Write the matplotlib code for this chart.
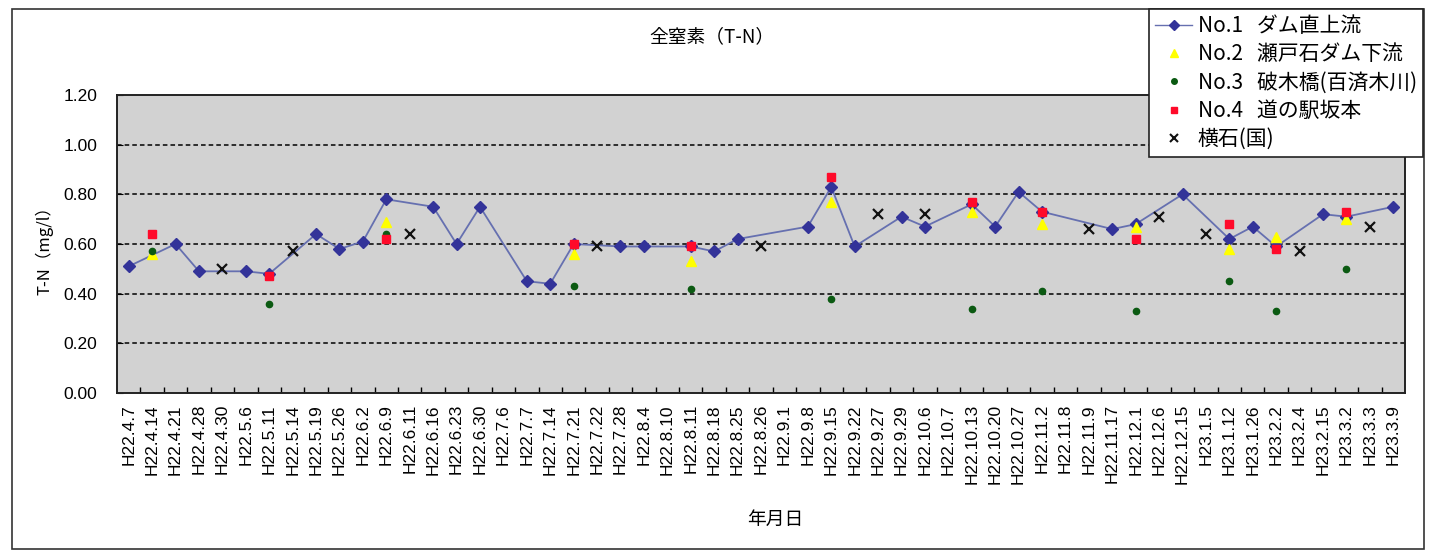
import numpy as np
import matplotlib
matplotlib.use("Agg")
import matplotlib.pyplot as plt
from matplotlib.patches import Rectangle
from matplotlib.lines import Line2D

plt.rcParams['font.family'] = ['Noto Sans CJK JP', 'DejaVu Sans']

nan = np.nan

dates = [
    "H22.4.7", "H22.4.14", "H22.4.21", "H22.4.28", "H22.4.30", "H22.5.6", "H22.5.11",
    "H22.5.14", "H22.5.19", "H22.5.26", "H22.6.2", "H22.6.9", "H22.6.11", "H22.6.16",
    "H22.6.23", "H22.6.30", "H22.7.6", "H22.7.7", "H22.7.14", "H22.7.21", "H22.7.22",
    "H22.7.28", "H22.8.4", "H22.8.10", "H22.8.11", "H22.8.18", "H22.8.25", "H22.8.26",
    "H22.9.1", "H22.9.8", "H22.9.15", "H22.9.22", "H22.9.27", "H22.9.29", "H22.10.6",
    "H22.10.7", "H22.10.13", "H22.10.20", "H22.10.27", "H22.11.2", "H22.11.8", "H22.11.9",
    "H22.11.17", "H22.12.1", "H22.12.6", "H22.12.15", "H23.1.5", "H23.1.12", "H23.1.26",
    "H23.2.2", "H23.2.4", "H23.2.15", "H23.3.2", "H23.3.3", "H23.3.9",
]

# No.1 ダム直上流
no1 = [
    0.51, nan, 0.60, 0.49, nan, 0.49, 0.48, nan, 0.64, 0.58, 0.61, 0.78, nan, 0.75,
    0.60, 0.75, nan, 0.45, 0.44, 0.60, nan, 0.59, 0.59, nan, 0.59, 0.57, 0.62, nan,
    nan, 0.67, 0.83, 0.59, nan, 0.71, 0.67, nan, 0.76, 0.67, 0.81, 0.73, nan, nan,
    0.66, 0.68, nan, 0.80, nan, 0.62, 0.67, 0.59, nan, 0.72, 0.71, nan, 0.75,
]

# sampling dates shared by stations No.2 - No.4
dates_234 = ["H22.4.14", "H22.5.11", "H22.6.9", "H22.7.21", "H22.8.11", "H22.9.15",
             "H22.10.13", "H22.11.2", "H22.12.1", "H23.1.12", "H23.2.2", "H23.3.2"]
dates_2 = ["H22.4.14", "H22.6.9", "H22.7.21", "H22.8.11", "H22.9.15",
           "H22.10.13", "H22.11.2", "H22.12.1", "H23.1.12", "H23.2.2", "H23.3.2"]
no2 = [0.56, 0.69, 0.56, 0.53, 0.77, 0.73, 0.68, 0.67, 0.58, 0.63, 0.70]
no3 = [0.57, 0.36, 0.64, 0.43, 0.42, 0.38, 0.34, 0.41, 0.33, 0.45, 0.33, 0.50]
no4 = [0.64, 0.47, 0.62, 0.60, 0.59, 0.87, 0.77, 0.73, 0.62, 0.68, 0.58, 0.73]

dates_y = ["H22.4.30", "H22.5.14", "H22.6.11", "H22.7.22", "H22.8.26", "H22.9.27",
           "H22.10.6", "H22.11.9", "H22.12.6", "H23.1.5", "H23.2.4", "H23.3.3"]
yokoishi = [0.50, 0.57, 0.64, 0.59, 0.59, 0.72, 0.72, 0.66, 0.71, 0.64, 0.57, 0.67]

labels = ["No.1   ダム直上流", "No.2   瀬戸石ダム下流", "No.3   破木橋(百済木川)",
          "No.4   道の駅坂本", "横石(国)"]

pos = {d: i for i, d in enumerate(dates)}
x_all = np.arange(len(dates))

W, H = 1433, 550
fig = plt.figure(figsize=(W / 100, H / 100), dpi=100)
fig.patch.set_facecolor("white")

ax = fig.add_axes([117 / W, 1 - 393 / H, (1405 - 117) / W, (393 - 95) / H])
ax.set_facecolor("#d2d2d2")

# No.1: line through the valid points only, with diamond markers
y1 = np.array(no1, dtype=float)
m = ~np.isnan(y1)
ax.plot(x_all[m], y1[m], color="#6670b0", lw=1.3, zorder=3)
ax.plot(x_all[m], y1[m], ls="none", marker="D", ms=6, color="#333399",
        mec="#333399", zorder=4)

ax.plot([pos[d] for d in dates_2], no2, ls="none", marker="^", ms=7,
        color="#ffff00", mec="#ffff00", zorder=5)
ax.plot([pos[d] for d in dates_234], no3, ls="none", marker="o", ms=4.5,
        color="#0b5a12", mec="#0b5a12", zorder=6)
ax.plot([pos[d] for d in dates_234], no4, ls="none", marker="s", ms=5.5,
        color="#ff0a2a", mec="#ff0a2a", zorder=7)
ax.plot([pos[d] for d in dates_y], yokoishi, ls="none", marker="x", ms=7,
        mew=1.6, color="#111111", zorder=8)

ax.set_xlim(-0.5, len(dates) - 0.5)
ax.set_ylim(0, 1.2)

yt = np.arange(0, 1.21, 0.2)
ax.set_yticks(yt)
ax.set_yticklabels([f"{v:.2f}" for v in yt], fontsize=12.5, family="Liberation Sans")
for v in yt[1:-1]:
    ax.axhline(v, color="black", lw=1.1, ls=(0, (3, 2)), zorder=1)

ax.set_xticks(x_all)
ax.set_xticklabels(dates, rotation=90, fontsize=12.5, family="Liberation Sans")
ax.set_xticks(np.arange(0.5, len(dates) - 1, 1), minor=True)
ax.tick_params(axis="x", which="major", length=0, pad=8)
ax.tick_params(axis="x", which="minor", direction="in", length=4, width=1)
ax.tick_params(axis="y", direction="in", length=4, pad=14)
for s in ax.spines.values():
    s.set_linewidth(1.4)
    s.set_color("#222222")

fig.text(712 / W, 1 - 37 / H, "全窒素（T-N）", ha="center", va="center", fontsize=13.5)
fig.text(44 / W, 1 - 246 / H, "T-N（mg/l）", ha="center", va="center",
         rotation=90, fontsize=12)
fig.text(775 / W, 1 - 519 / H, "年月日", ha="center", va="center", fontsize=13.5)

# outer chart frame
fig.patches.append(Rectangle((12 / W, 1 / H), (1424 - 12) / W, (549 - 9) / H,
                             transform=fig.transFigure, fill=False,
                             edgecolor="#333333", lw=1.2, zorder=0))

handles = [
    Line2D([], [], color="#6670b0", lw=1.0, marker="D", ms=5, mfc="#333399", mec="#333399"),
    Line2D([], [], ls="none", marker="^", ms=6, color="#ffff00"),
    Line2D([], [], ls="none", marker="o", ms=4, color="#0b5a12"),
    Line2D([], [], ls="none", marker="s", ms=5, color="#ff0a2a"),
    Line2D([], [], ls="none", marker="x", ms=6, mew=1.5, color="#111111"),
]
leg = fig.legend(handles, labels, loc="upper right",
                 bbox_to_anchor=(1423 / W, 1 - 9 / H), fontsize=15,
                 frameon=True, fancybox=False, edgecolor="#222222",
                 framealpha=1.0, facecolor="white",
                 borderpad=0.3, labelspacing=0.3, handlelength=1.8,
                 handletextpad=0.25, borderaxespad=0)
leg.get_frame().set_linewidth(1.2)
leg.set_zorder(10)

fig.savefig("out.png", dpi=100, facecolor="white")
